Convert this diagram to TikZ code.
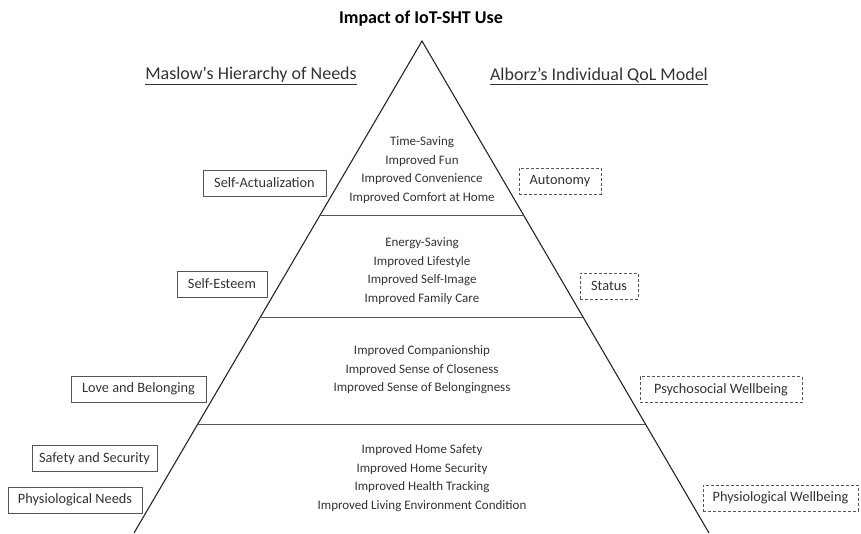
\documentclass[tikz,border=0pt]{standalone}
\usepackage{fontspec}
\setmainfont{Carlito}
\usetikzlibrary{calc}
\definecolor{txt}{HTML}{333333}
\definecolor{edge}{HTML}{555555}
\tikzset{
  blocktext/.style={align=center, text=txt, font=\fontsize{13}{18.5}\selectfont, inner sep=0pt},
  leftbox/.style={draw=edge, line width=0.9pt, text=txt, font=\fontsize{14.3}{16}\selectfont, minimum height=26pt, inner xsep=6pt, inner ysep=0pt},
  rightbox/.style={leftbox, densely dashed},
  header/.style={text=txt, font=\fontsize{18}{21}\selectfont, inner sep=0pt},
  side/.style={line width=1.1pt, draw=black!85},
  level/.style={line width=0.9pt, draw=edge}
}
\begin{document}
\begin{tikzpicture}[x=1pt,y=-1pt]
\useasboundingbox (0,0) rectangle (861,533);
% pyramid
\coordinate (apex) at (422,41);
\coordinate (bl) at (134,533);
\coordinate (br) at (709,533);
\draw[side] (bl) -- (apex) -- (br);
\coordinate (l1a) at ($(apex)!0.3537!(bl)$);
\coordinate (l1b) at ($(apex)!0.3537!(br)$);
\coordinate (l2a) at ($(apex)!0.561!(bl)$);
\coordinate (l2b) at ($(apex)!0.561!(br)$);
\coordinate (l3a) at ($(apex)!0.7785!(bl)$);
\coordinate (l3b) at ($(apex)!0.7785!(br)$);
\draw[level] (l1a) -- (l1b);
\draw[level] (l2a) -- (l2b);
\draw[level] (l3a) -- (l3b);
% titles
\node[text=black, font=\bfseries\fontsize{18}{21}\selectfont, inner sep=0pt] (title) at (421,19) {Impact of IoT-SHT Use};
\node[header] (maslow) at (251,76) {\underline{Maslow\textquotesingle s Hierarchy of Needs}};
\node[header] (alborz) at (599,76) {\underline{Alborz’s Individual QoL Model}};
% pyramid texts
\node[blocktext] (b1) at (422,170) {Time-Saving\\Improved Fun\\Improved Convenience\\Improved Comfort at Home};
\node[blocktext] (b2) at (422,271) {Energy-Saving\\Improved Lifestyle\\Improved Self-Image\\Improved Family Care};
\node[blocktext] (b3) at (422,370) {Improved Companionship\\Improved Sense of Closeness\\Improved Sense of Belongingness};
\node[blocktext] (b4) at (422,478) {Improved Home Safety\\Improved Home Security\\Improved Health Tracking\\Improved Living Environment Condition};
% left boxes
\node[leftbox, minimum width=123pt] (sa) at (264.5,183) {Self-Actualization};
\node[leftbox, minimum width=90pt] (se) at (222,284) {Self-Esteem};
\node[leftbox, minimum width=135pt] (lb) at (138.5,389) {Love and Belonging};
\node[leftbox, minimum width=125pt] (ss) at (94.5,458.5) {Safety and Security};
\node[leftbox, minimum width=134pt] (pn) at (75,500) {Physiological Needs};
% right boxes
\node[rightbox, minimum width=82pt] (au) at (560,181) {Autonomy};
\node[rightbox, minimum width=58pt] (st) at (609,286) {Status};
\node[rightbox, minimum width=162pt] (pw) at (721,389.5) {Psychosocial Wellbeing};
\node[rightbox, minimum width=155pt] (phw) at (780.5,498) {Physiological Wellbeing};
\end{tikzpicture}
\end{document}
